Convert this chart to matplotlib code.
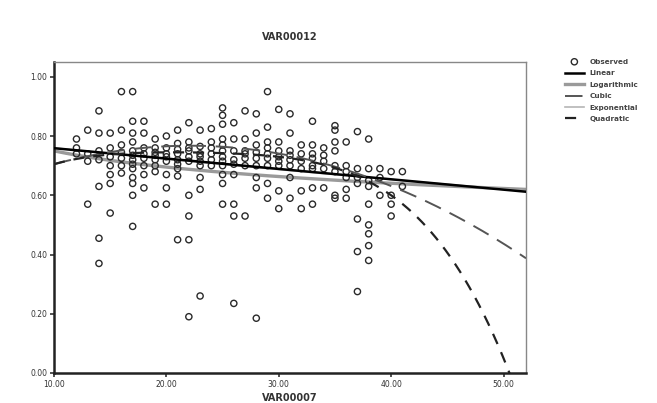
import numpy as np
import matplotlib
matplotlib.use("Agg")
import matplotlib.pyplot as plt

# ---- data ----
title = "VAR00012"
x_label = "VAR00007"
x_ticks = [10, 20, 30, 40, 50]
x_tick_labels = ["10.00", "20.00", "30.00", "40.00", "50.00"]
y_ticks = [0.0, 0.2, 0.4, 0.6, 0.8, 1.0]
y_tick_labels = ["0.00", "0.20", "0.40", "0.60", "0.80", "1.00"]

obs_cols = [12, 13, 14, 15, 16, 17, 18, 19, 20, 21, 22, 23, 24, 25, 26, 27,
            28, 29, 30, 31, 32, 33, 34, 35, 36, 37, 38, 39, 40, 41]
obs_vals = [
    [.79, .76, .74],
    [.82, .715, .57, .74],
    [.885, .81, .72, .63, .455, .37, .75],
    [.81, .67, .64, .54, .73, .76, .70],
    [.95, .82, .77, .725, .675, .745, .70],
    [.95, .85, .81, .78, .75, .72, .69, .66, .64, .60, .495, .735, .705],
    [.85, .81, .76, .725, .67, .625, .74, .70],
    [.79, .76, .72, .68, .57, .735, .745, .70],
    [.80, .76, .715, .67, .625, .57, .74, .73],
    [.82, .775, .74, .69, .665, .45, .72, .755, .705],
    [.845, .78, .75, .715, .60, .53, .45, .19, .73, .76],
    [.82, .765, .715, .66, .62, .26, .74, .73, .70],
    [.825, .78, .74, .70, .72, .76],
    [.895, .87, .84, .79, .75, .715, .67, .64, .57, .73, .77, .70],
    [.845, .79, .75, .67, .57, .53, .235, .72, .705],
    [.885, .79, .725, .53, .70, .75, .74],
    [.875, .81, .77, .725, .66, .625, .185, .745, .70],
    [.95, .83, .78, .725, .64, .59, .70, .76, .74],
    [.89, .75, .715, .615, .555, .78, .73, .70],
    [.875, .81, .75, .66, .59, .72, .70, .735],
    [.77, .715, .615, .555, .74, .69],
    [.85, .77, .725, .625, .57, .69, .74, .70],
    [.76, .715, .625, .69, .735],
    [.835, .82, .78, .75, .59, .60, .70, .68],
    [.78, .62, .59, .70, .68, .66],
    [.815, .69, .52, .41, .275, .66, .64],
    [.79, .69, .50, .47, .43, .38, .57, .65, .63],
    [.69, .60, .66],
    [.68, .60, .53, .57],
    [.68, .63],
]

# fitted model coefficients (estimated from the drawn curves)
linear_coef = [-0.0035, 0.759]            # in (x - 10)
log_coef = [-0.0789, 0.9316]              # a + b*ln(x) -> [b, a]
exp_coef = [0.799, -0.00504]              # a*exp(b*x)
cubic_coef = [-0.0004254, 0.010304, 0.705]  # in (x - 10)
quad_coef = [-0.0102083, 0.05125, -0.1097917, 0.10875, 0.705]  # in (x-10)/10

x_min, x_max = 10, 52

# ---- figure ----
fig = plt.figure(figsize=(6.57, 4.03), dpi=100)
ax = fig.add_axes([54 / 657, 1 - 373 / 403, (526 - 54) / 657, (373 - 62) / 403])

ox = np.concatenate([[c] * len(v) for c, v in zip(obs_cols, obs_vals)])
oy = np.concatenate(obs_vals)
ax.scatter(ox, oy, s=20, facecolors="none", edgecolors="#2a2a2a",
           linewidths=1.0, zorder=3, label="Observed")

xs = np.linspace(x_min, x_max, 400)
ax.plot(xs, np.polyval(linear_coef, xs - 10), color="black", lw=1.8,
        zorder=4, label="Linear")
ax.plot(xs, log_coef[1] + log_coef[0] * np.log(xs), color="#9a9a9a", lw=2.4,
        zorder=2, label="Logarithmic")
ax.plot(xs, np.polyval(cubic_coef, xs - 10), color="#555555", lw=1.4,
        dashes=(9, 5), zorder=4, label="Cubic")
ax.plot(xs, exp_coef[0] * np.exp(exp_coef[1] * xs), color="#b5b5b5", lw=1.2,
        zorder=2, label="Exponential")
ax.plot(xs, np.polyval(quad_coef, (xs - 10) / 10), color="#222222", lw=1.6,
        dashes=(5, 4), zorder=4, label="Quadratic")

ax.set_xlim(x_min, x_max)
ax.set_ylim(0, 1.05)
ax.set_xticks(x_ticks)
ax.set_xticklabels(x_tick_labels, fontsize=5.5, color="#444444")
ax.set_yticks(y_ticks)
ax.set_yticklabels(y_tick_labels, fontsize=5.5, color="#444444")
ax.tick_params(axis="both", direction="out", length=3, width=1.2, pad=2,
               colors="#333333")

for side in ("left", "bottom"):
    ax.spines[side].set_linewidth(1.8)
    ax.spines[side].set_color("#222222")
for side in ("top", "right"):
    ax.spines[side].set_linewidth(1.0)
    ax.spines[side].set_color("#888888")

ax.set_title(title, fontsize=7, fontweight="bold", color="#333333", pad=16)
ax.set_xlabel(x_label, fontsize=7, fontweight="bold", color="#333333",
              labelpad=3)

leg = fig.legend(loc="upper left", bbox_to_anchor=(561 / 657, 1 - 55 / 403),
                 frameon=False, fontsize=5.2, handlelength=2.7,
                 handletextpad=0.7, labelspacing=0.75, borderpad=0)
for t in leg.get_texts():
    t.set_color("#444444")
    t.set_fontweight("bold")

fig.savefig("out.png", dpi=100)
